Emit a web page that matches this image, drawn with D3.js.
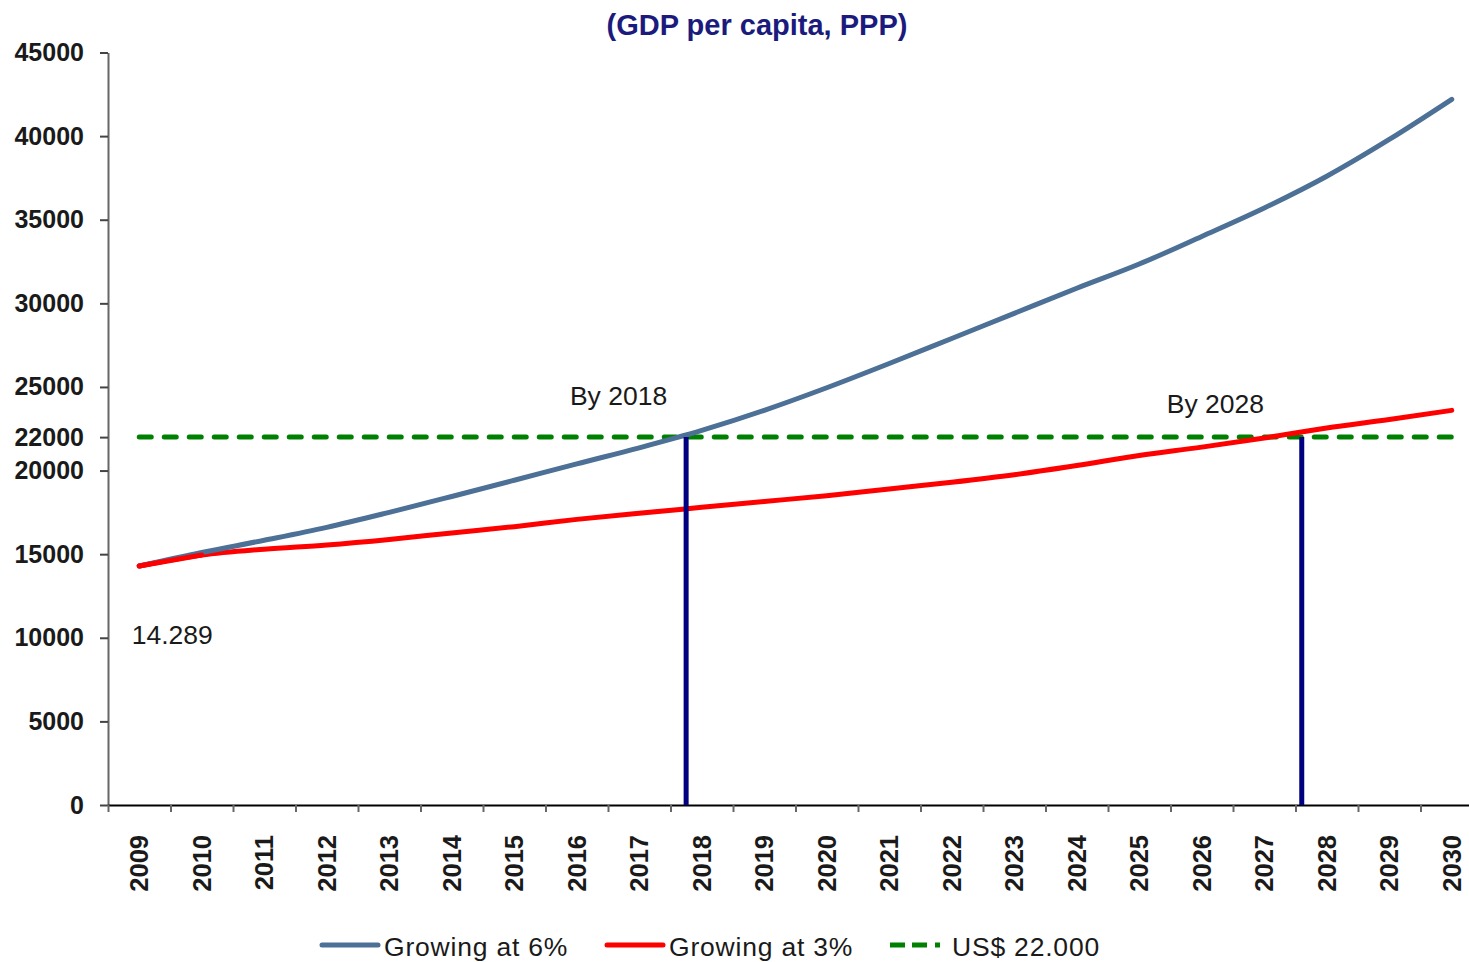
<!DOCTYPE html>
<html>
<head>
<meta charset="utf-8">
<script src="https://cdn.jsdelivr.net/npm/d3@7"></script>
<style>
  html, body { margin: 0; padding: 0; background: #fff; }
  svg { display: block; }
  text { font-family: "Liberation Sans", Arial, sans-serif; }
</style>
</head>
<body>
<svg id="chart" width="1469" height="962"></svg>
<script>
// ---- data ----
const years = [2009,2010,2011,2012,2013,2014,2015,2016,2017,2018,2019,2020,2021,2022,2023,2024,2025,2026,2027,2028,2029,2030];
const growing6 = [14289,15100,15830,16600,17500,18450,19420,20400,21360,22400,23600,24950,26400,27900,29400,30900,32350,34000,35700,37600,39800,42200];
const growing3 = [14289,14950,15300,15550,15880,16270,16645,17080,17450,17800,18150,18500,18900,19300,19750,20300,20900,21400,21950,22550,23050,23600];
const threshold = 22000;
const yTicks = [0,5000,10000,15000,20000,22000,25000,30000,35000,40000,45000];
const reachYears = [2017.75, 2027.6];
const annotations = [
  { text: "By 2018", year: 2015.89, value: 23900 },
  { text: "By 2028", year: 2025.44, value: 23450 },
  { text: "14.289", year: 2008.88, value: 9600 }
];
const seriesNames = ["Growing at 6%", "Growing at 3%", "US$ 22.000"];
const title = "(GDP per capita, PPP)";

// ---- layout ----
const svg = d3.select("#chart");
const mLeft = 108, mBottom = 805, mTop = 52.5;
const step = 62.5;
const mRight = mLeft + step * years.length;

const xBand = d3.scaleBand().domain(years).range([mLeft, mRight]).paddingInner(0).paddingOuter(0);
const xLin = d3.scaleLinear().domain([years[0] - 0.5, years[years.length-1] + 0.5]).range([mLeft, mRight]);
const y = d3.scaleLinear().domain([0, 45000]).range([mBottom, mTop]);

// title
svg.append("text")
  .attr("x", 757).attr("y", 35)
  .attr("text-anchor", "middle")
  .attr("font-size", 29).attr("font-weight", "bold")
  .attr("fill", "#1b1b7d")
  .text(title);

// y axis
const yAxis = svg.append("g")
  .attr("transform", `translate(${mLeft},0)`)
  .call(d3.axisLeft(y).tickValues(yTicks).tickFormat(d3.format("d")).tickSize(8).tickSizeOuter(0));
yAxis.select(".domain").attr("stroke", "#666").attr("stroke-width", 2);
yAxis.selectAll(".tick line").attr("stroke", "#444").attr("stroke-width", 2);
yAxis.selectAll(".tick text")
  .attr("x", -24)
  .attr("font-size", 25).attr("font-weight", "bold")
  .attr("fill", "#1a1a1a")
  .attr("font-family", "'Liberation Sans', Arial, sans-serif");

// x axis tick marks (category boundaries)
const xTicksG = svg.append("g")
  .attr("transform", `translate(0,${mBottom})`)
  .call(d3.axisBottom(xLin).tickValues(d3.range(years.length).map(i => years[0] - 0.5 + i)).tickFormat("").tickSize(7).tickSizeOuter(0));
xTicksG.select(".domain").attr("stroke", "#000").attr("stroke-width", 2);
xTicksG.selectAll(".tick line").attr("stroke", "#666").attr("stroke-width", 2);

// x axis labels (category centres)
const xLab = svg.append("g")
  .attr("transform", `translate(0,${mBottom})`)
  .call(d3.axisBottom(xBand).tickSize(0).tickSizeOuter(0));
xLab.select(".domain").remove();
xLab.selectAll(".tick text")
  .attr("transform", "rotate(-90)")
  .attr("text-anchor", "end")
  .attr("x", -30).attr("y", 0).attr("dy", "0.36em")
  .attr("font-size", 25.5).attr("font-weight", "bold")
  .attr("fill", "#1a1a1a")
  .attr("font-family", "'Liberation Sans', Arial, sans-serif");

// threshold dashed line
svg.append("line")
  .attr("x1", xLin(years[0])).attr("x2", xLin(years[years.length-1]))
  .attr("y1", y(threshold)).attr("y2", y(threshold))
  .attr("stroke", "#008000").attr("stroke-width", 5)
  .attr("stroke-dasharray", "12 13").attr("stroke-linecap", "round");

// series lines
const line = d3.line().x((d, i) => xLin(years[i])).y(d => y(d)).curve(d3.curveMonotoneX);
svg.append("path").datum(growing3)
  .attr("d", line).attr("fill", "none")
  .attr("stroke", "#ff0000").attr("stroke-width", 5).attr("stroke-linecap", "round");
svg.append("path").datum(growing6)
  .attr("d", line).attr("fill", "none")
  .attr("stroke", "#4c7096").attr("stroke-width", 5).attr("stroke-linecap", "round");
svg.append("path").datum(growing3.slice(0, 2))
  .attr("d", line).attr("fill", "none")
  .attr("stroke", "#ff0000").attr("stroke-width", 5).attr("stroke-linecap", "round");

// vertical reach lines
svg.selectAll(".reach").data(reachYears).enter().append("line")
  .attr("x1", d => xLin(d)).attr("x2", d => xLin(d))
  .attr("y1", y(threshold)).attr("y2", y(0))
  .attr("stroke", "#000080").attr("stroke-width", 5);

// annotations
svg.selectAll(".ann").data(annotations).enter().append("text")
  .attr("x", d => xLin(d.year)).attr("y", d => y(d.value))
  .attr("font-size", 26.5)
  .attr("fill", "#1a1a1a")
  .text(d => d.text);

// legend
const legendY = 945;
const legendItems = [
  { name: seriesNames[0], color: "#4c7096", x: 322, dash: null },
  { name: seriesNames[1], color: "#ff0000", x: 607, dash: null },
  { name: seriesNames[2], color: "#008000", x: 890, dash: "15 7 15 8 5 200" }
];
const lg = svg.append("g");
legendItems.forEach(it => {
  lg.append("line")
    .attr("x1", it.x).attr("x2", it.x + 56)
    .attr("y1", legendY).attr("y2", legendY)
    .attr("stroke", it.color).attr("stroke-width", 5)
    .attr("stroke-dasharray", it.dash).attr("stroke-linecap", it.dash ? "butt" : "round");
  lg.append("text")
    .attr("x", it.x + 62).attr("y", legendY + 11)
    .attr("font-size", 26.5)
    .attr("letter-spacing", 0.8)
    .attr("fill", "#1a1a1a")
    .text(it.name);
});
</script>
</body>
</html>
